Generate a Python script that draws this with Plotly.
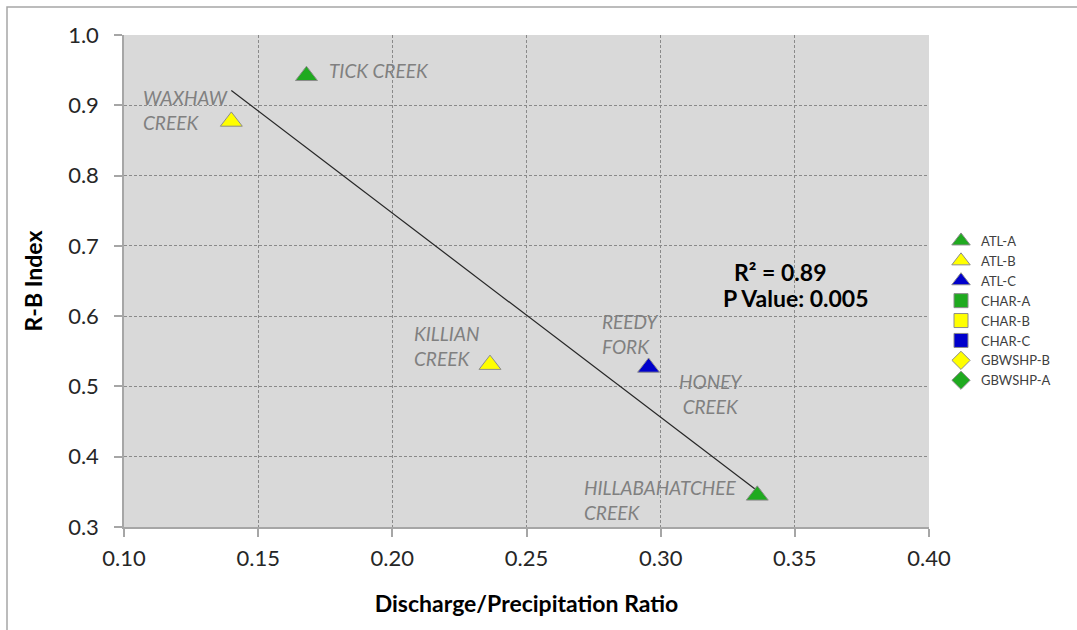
import numpy as np
import plotly.graph_objects as go

# Site observations: discharge/precipitation ratio vs. Richards-Baker flashiness index
sites = ["TICK CREEK", "HILLABAHATCHEE CREEK", "WAXHAW CREEK", "KILLIAN CREEK", "REEDY FORK"]
dp_ratio = [0.168, 0.336, 0.140, 0.2364, 0.2955]
rb_index = [0.942, 0.345, 0.877, 0.531, 0.527]
site_group = ["ATL-A", "ATL-A", "ATL-B", "ATL-B", "ATL-C"]

# Legend groups and their marker styles
groups = ["ATL-A", "ATL-B", "ATL-C", "CHAR-A", "CHAR-B", "CHAR-C", "GBWSHP-B", "GBWSHP-A"]
group_colors = ["#1faa1f", "#ffff00", "#0000cc", "#1faa1f", "#ffff00", "#0000cc", "#ffff00", "#1faa1f"]
group_symbols = ["triangle-up", "triangle-up", "triangle-up", "square", "square", "square", "diamond", "diamond"]

# Site label text and anchor positions
label_text = ["TICK CREEK", "WAXHAW<br>CREEK", "KILLIAN<br>CREEK", "REEDY<br>FORK", "HONEY<br>CREEK", "HILLABAHATCHEE<br>CREEK"]
label_x = [0.1758, 0.1063, 0.2074, 0.2773, 0.3186, 0.2706]
label_y = [0.949, 0.893, 0.557, 0.575, 0.4886, 0.339]
label_align = ["left", "left", "left", "left", "center", "left"]

FONT = "Lato"

fig = go.Figure()

# Linear trend line through all site points
slope, intercept = np.polyfit(dp_ratio, rb_index, 1)
tx = np.array([min(dp_ratio), max(dp_ratio)])
fig.add_trace(go.Scatter(x=tx, y=slope * tx + intercept, mode="lines",
                         line=dict(color="#262626", width=1.2),
                         showlegend=False, hoverinfo="skip"))

for g, c, s in zip(groups, group_colors, group_symbols):
    xs = [x for x, gg in zip(dp_ratio, site_group) if gg == g]
    ys = [y for y, gg in zip(rb_index, site_group) if gg == g]
    if not xs:
        xs, ys = [None], [None]
    fig.add_trace(go.Scatter(
        x=xs, y=ys, mode="markers", name=g,
        marker=dict(symbol=s, color=c, size=19 if s == "triangle-up" else 14,
                    line=dict(color="#8c8c8c", width=1)),
    ))

for t, x, y, a in zip(label_text, label_x, label_y, label_align):
    fig.add_annotation(x=x, y=y, text=t, showarrow=False,
                       xanchor="left" if a == "left" else "center", yanchor="middle",
                       align=a,
                       font=dict(family=FONT, size=19, color="#808080", style="italic"))

fig.add_annotation(x=0.2975 + (787 - 661) / 2690, y=1.0 - (272 - 35) / 702,
                   text="R² = 0.89", showarrow=False, xanchor="center", yanchor="middle",
                   font=dict(family=FONT, size=23, color="#000000", weight="bold"))
fig.add_annotation(x=0.30 + (797 - 661) / 2690, y=1.0 - (298 - 35) / 702,
                   text="P Value: 0.005", showarrow=False, xanchor="center", yanchor="middle",
                   font=dict(family=FONT, size=23, color="#000000", weight="bold"))

axis_common = dict(
    showgrid=True, gridcolor="#8a8a8a", gridwidth=1, griddash="3px,2px",
    showline=True, linecolor="#a6a6a6", linewidth=1.5,
    ticks="outside", ticklen=8, tickcolor="#a6a6a6", tickwidth=1.5,
    zeroline=False, automargin=False,
    tickfont=dict(family=FONT, size=22, color="#262626"),
)

fig.update_xaxes(range=[0.10, 0.40], dtick=0.05, tickformat=".2f", tick0=0.10,
                 ticklabelstandoff=3,
                 title=dict(text="Discharge/Precipitation Ratio", standoff=26,
                            font=dict(family=FONT, size=23, color="#000000", weight="bold")),
                 **axis_common)
fig.update_yaxes(range=[0.30, 1.0], dtick=0.1, tickformat=".1f", tick0=0.3,
                 ticklabelstandoff=11,
                 title=dict(text="R-B Index", standoff=19,
                            font=dict(family=FONT, size=23, color="#000000", weight="bold")),
                 **axis_common)

# Chart-area border
fig.add_shape(type="rect", xref="paper", yref="paper",
              x0=-117 / 805, x1=1.3, y0=-0.3, y1=(527 - 7) / 492,
              line=dict(color="#a6a6a6", width=1.5), layer="below")

fig.update_layout(
    width=1077, height=630,
    margin=dict(l=124, r=148, t=35, b=103, autoexpand=False),
    paper_bgcolor="#ffffff", plot_bgcolor="#d9d9d9",
    showlegend=True,
    legend=dict(xref="container", yref="container", x=941 / 1077, y=1 - 226 / 630,
                xanchor="left", yanchor="top",
                font=dict(family=FONT, size=13, color="#404040"),
                tracegroupgap=0, itemwidth=30, bgcolor="rgba(0,0,0,0)"),
)

fig.write_html("out.html")
